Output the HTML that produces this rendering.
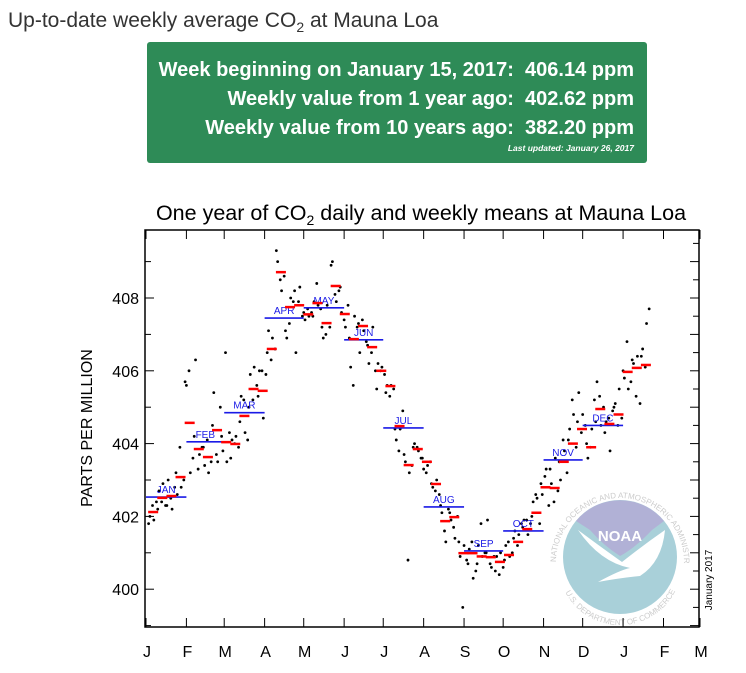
<!DOCTYPE html>
<html><head><meta charset="utf-8"><style>
body{margin:0;background:#fff;width:746px;height:673px;overflow:hidden;font-family:"Liberation Sans",Arial,sans-serif;}
svg{position:absolute;left:0;top:0}
</style></head><body>
<svg id="chart" width="746" height="673">
<text x="8" y="27" font-size="21" fill="#333">Up-to-date weekly average CO<tspan font-size="14" dy="5">2</tspan><tspan dy="-5"> at Mauna Loa</tspan></text>
<rect x="147" y="42" width="500" height="121" rx="3" fill="#2e8b57"/>
<g font-weight="bold" fill="#fff" font-size="20" text-anchor="end">
<text x="634" y="76">Week beginning on January 15, 2017:&#160; 406.14 ppm</text>
<text x="634" y="105">Weekly value from 1 year ago:&#160; 402.62 ppm</text>
<text x="634" y="134">Weekly value from 10 years ago:&#160; 382.20 ppm</text>
<text x="634" y="151" font-size="8.5" font-style="italic">Last updated: January 26, 2017</text>
</g>
<text x="421" y="220" font-size="21.5" text-anchor="middle" fill="#000">One year of CO<tspan font-size="14" dy="5">2</tspan><tspan dy="-5"> daily and weekly means at Mauna Loa</tspan></text>
<text transform="translate(92,428) rotate(-90)" font-size="16" text-anchor="middle">PARTS PER MILLION</text>
<text transform="translate(712,580) rotate(-90)" font-size="10" text-anchor="middle">January 2017</text>
<g id="logo">
<defs><path id="ring" d="M 556,562 A 64,64 0 1 1 684,562"/><path id="ring2" d="M 562,585 A 62,62 0 0 0 678,585"/></defs>
<circle cx="620" cy="557" r="57" fill="#a9d0d9"/>
<path d="M 576,521 A 57,57 0 0 1 664,521 L 652,530 Q 635,548 620,556 Q 604,546 590,530 Z" fill="#b1b1d6"/>
<path d="M 578,530 Q 605,550 622,562 Q 642,546 665,530 Q 662,562 640,576 Q 620,578 598,582 Q 620,570 630,568 Q 600,562 578,530 Z" fill="#fff"/>
<text x="620" y="541" font-size="15" font-weight="bold" fill="#fff" text-anchor="middle">NOAA</text>
<text font-size="8" fill="#ccc"><textPath href="#ring">NATIONAL OCEANIC AND ATMOSPHERIC ADMINISTRATION</textPath></text>
<text font-size="8" fill="#ccc"><textPath href="#ring2" startOffset="8">U.S. DEPARTMENT OF COMMERCE</textPath></text>
</g>
<g id="plot"></g>
</svg>
<script>
const yTicks=[400,402,404,406,408];
const monthLabels=["J","F","M","A","M","J","J","A","S","O","N","D","J","F","M"];
const monthStartDays=[0,31,60,91,121,152,182,213,244,274,305,335,366,397,425];
const monthNames=["JAN","FEB","MAR","APR","MAY","JUN","JUL","AUG","SEP","OCT","NOV","DEC"];
const monthlyMeans=[402.53,404.05,404.85,407.45,407.73,406.85,404.43,402.26,401.05,401.6,403.55,404.5];
const weeklyMeans=[402.12,402.51,402.56,403.08,404.57,403.85,403.63,404.37,404.04,403.99,404.76,405.5,405.45,406.6,408.71,407.75,407.8,407.55,407.86,407.31,408.33,407.56,406.87,407.23,406.65,406.0,405.58,404.48,403.41,403.85,403.5,402.89,401.87,401.98,400.99,400.99,400.9,400.88,400.75,400.94,401.3,401.65,402.1,402.8,402.78,403.5,404.0,404.4,403.9,404.95,404.54,404.8,405.97,406.08,406.16];
const dailyValues=[
401.8,402.0,402.3,401.9,402.4, 402.2,402.7,402.4,402.9,402.3, 402.3,403.0,402.5,402.2,402.8, 403.2,402.6,403.9,402.8,403.0,
405.7,405.6,406.0,403.2,403.6, 404.2,406.3,403.3,403.7,403.9, 403.9,403.4,404.1,403.2,403.5, 404.5,405.4,403.7,403.5,405.0,
404.2,403.8,406.5,403.5,404.3, 403.6,404.1,404.0,404.2,403.9, 404.6,405.3,405.2,404.3,404.1, 405.0,405.9,405.2,406.1,405.6,
405.3,406.0,406.0,404.7,405.9, 406.5,407.1,406.3,406.9,406.6, 409.3,409.0,408.5,408.2,408.6, 407.1,406.9,407.3,408.0,407.9,
408.2,406.5,407.9,408.3,407.5, 407.6,407.4,407.7,407.5,407.6, 407.5,407.9,408.4,407.8,407.7, 407.2,406.9,407.0,407.8,407.2,
408.9,409.0,408.1,407.9,408.2, 408.3,407.6,407.4,407.2,407.8, 406.9,406.1,405.6,407.5,407.2, 407.3,406.5,407.4,407.1,406.8,
406.7,406.2,406.5,407.2,406.0, 405.5,406.2,406.0,406.1,405.9, 405.4,405.6,405.3,405.6,405.5, 404.4,404.1,403.8,404.4,404.9,
403.7,403.5,400.8,403.2,403.4, 403.9,404.0,403.9,403.8,403.6, 403.6,403.3,403.2,403.4,403.5, 402.9,402.8,402.7,403.0,402.6,
402.3,402.1,401.6,401.3,402.2, 402.1,401.9,401.7,401.4,402.0, 401.3,400.9,399.5,401.2,400.8, 400.7,401.1,401.3,400.3,400.5,
400.7,401.2,401.8,400.9,401.0, 401.0,401.9,400.7,400.6,400.9, 400.5,400.9,400.4,401.0,400.6, 400.8,401.2,401.3,400.9,401.0,
401.4,401.6,401.2,401.5,401.8, 401.7,401.9,401.9,401.5,401.8, 402.0,402.4,402.6,402.5,401.8, 402.9,402.6,403.1,403.3,402.3,
403.3,402.9,402.4,403.6,402.7, 403.5,403.0,404.1,403.8,403.2, 404.1,404.4,405.2,404.8,403.9, 404.6,405.4,404.3,404.8,404.5,
404.0,403.6,403.9,404.4,405.2, 404.6,405.7,405.3,404.5,405.0, 404.3,404.6,404.7,403.8,404.9, 405.0,405.1,404.5,405.5,404.7,
406.0,405.8,406.8,405.5,405.7, 406.3,406.2,405.3,406.4,405.1, 406.4,406.6,406.1,407.3,407.7];
const dayOffsetsInWeek=[0,1,3,4,6];

const X0=146,PXD=1.3035,L=145,R=699,T=230,B=627;
const xS=d=>X0+d*PXD;
const yS=v=>298+(408-v)*36.4;
const NS="http://www.w3.org/2000/svg";
const plot=document.getElementById('plot');
function mk(tag,at,parent){const e=document.createElementNS(NS,tag);for(const k in at)e.setAttribute(k,at[k]);(parent||plot).appendChild(e);return e;}

const fr=mk('rect',{x:L,y:T,width:R-L,height:B-T,fill:'none',stroke:'#000','stroke-width':1.5});


for(let v=399;v<=409.5;v+=0.5){
  const y=yS(v);
  const major=Number.isInteger(v);
  if(major){mk('line',{x1:L,x2:L+(v%2===0?9:6),y1:y,y2:y,stroke:'#000'});}
  mk('line',{x1:R,x2:R-(major?9:6),y1:y,y2:y,stroke:'#000'});
}
yTicks.forEach(v=>{
  const t=mk('text',{x:139,y:yS(v)+6,'font-size':16,'text-anchor':'end'});t.textContent=v;
  
  
});
monthStartDays.forEach((d,i)=>{
  const x=xS(d);
  mk('line',{x1:x,x2:x,y1:B,y2:B-9,stroke:'#000'});
  mk('line',{x1:x,x2:x,y1:T,y2:T+9,stroke:'#000'});
  const t=mk('text',{x:x+1,y:657,'font-size':16,'text-anchor':'middle'});t.textContent=monthLabels[i];
  
  
});
dailyValues.forEach((v,k)=>{
  const w=Math.floor(k/5),d=w*7+2+dayOffsetsInWeek[k%5];
  const c=mk('circle',{cx:xS(d),cy:yS(v),r:1.4,fill:'#000'});
  
  
});
monthlyMeans.forEach((v,i)=>{
  const x1=xS(monthStartDays[i]),x2=xS(monthStartDays[i+1]),y=yS(v);
  const l=mk('line',{x1:x1,x2:x2,y1:y,y2:y,stroke:'#1a1ae6','stroke-width':1.6});
  
  
  const t=mk('text',{x:(x1+x2)/2,y:y-4,'font-size':10,fill:'#1a1ae6','text-anchor':'middle'});t.textContent=monthNames[i];
  
  
});
weeklyMeans.forEach((v,i)=>{
  const x=xS(2+7*i+3.5);
  const l=mk('line',{x1:x-5,x2:x+5,y1:yS(v),y2:yS(v),stroke:'#f00','stroke-width':2.5});
  
  
});
</script>
</body></html>
